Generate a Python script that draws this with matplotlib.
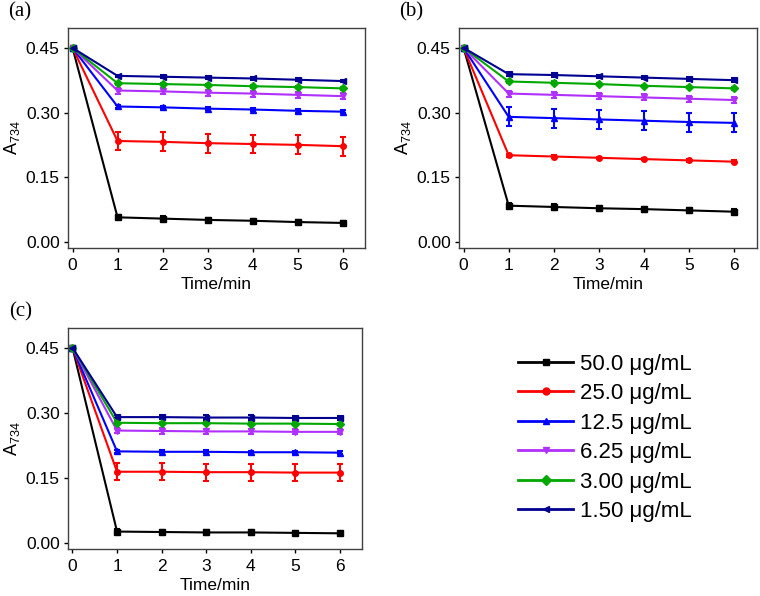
import numpy as np
import matplotlib
matplotlib.use('Agg')
import matplotlib.pyplot as plt
from matplotlib.lines import Line2D

plt.rcParams['font.family'] = ['Liberation Sans', 'DejaVu Sans']

time = [0, 1, 2, 3, 4, 5, 6]
labels = ['50.0 μg/mL', '25.0 μg/mL', '12.5 μg/mL', '6.25 μg/mL', '3.00 μg/mL', '1.50 μg/mL']
colors = ['black', '#ff0000', '#0000ff', '#b030ff', '#00a800', '#000090']
markers = ['s', 'o', '^', 'v', 'D', '<']

# panel (a)
a_vals = [
    [0.45, 0.057, 0.054, 0.051, 0.049, 0.046, 0.044],
    [0.45, 0.234, 0.232, 0.229, 0.227, 0.225, 0.222],
    [0.45, 0.314, 0.312, 0.309, 0.307, 0.304, 0.302],
    [0.45, 0.351, 0.349, 0.346, 0.344, 0.341, 0.338],
    [0.45, 0.368, 0.366, 0.364, 0.361, 0.359, 0.356],
    [0.45, 0.385, 0.383, 0.381, 0.379, 0.376, 0.373],
]
a_err = [0.005, 0.022, 0.004, 0.007, 0.003, 0.003]

# panel (b)
b_vals = [
    [0.45, 0.084, 0.081, 0.078, 0.076, 0.073, 0.070],
    [0.45, 0.201, 0.198, 0.195, 0.192, 0.189, 0.186],
    [0.45, 0.290, 0.287, 0.284, 0.281, 0.278, 0.276],
    [0.45, 0.344, 0.341, 0.338, 0.335, 0.332, 0.329],
    [0.45, 0.372, 0.369, 0.366, 0.362, 0.359, 0.356],
    [0.45, 0.389, 0.387, 0.384, 0.381, 0.378, 0.375],
]
b_err = [0.006, 0.003, 0.022, 0.007, 0.003, 0.004]

# panel (c)
c_vals = [
    [0.45, 0.026, 0.025, 0.024, 0.024, 0.023, 0.022],
    [0.45, 0.164, 0.164, 0.163, 0.163, 0.162, 0.162],
    [0.45, 0.211, 0.210, 0.210, 0.209, 0.209, 0.208],
    [0.45, 0.259, 0.258, 0.257, 0.257, 0.256, 0.256],
    [0.45, 0.277, 0.276, 0.276, 0.275, 0.275, 0.274],
    [0.45, 0.290, 0.290, 0.289, 0.289, 0.288, 0.288],
]
c_err = [0.005, 0.020, 0.003, 0.006, 0.003, 0.005]

fig = plt.figure(figsize=(7.6, 5.96), dpi=100)
ax_a = fig.add_axes([0.0895, 0.584, 0.391, 0.369])
ax_b = fig.add_axes([0.604, 0.584, 0.392, 0.369])
ax_c = fig.add_axes([0.0895, 0.079, 0.387, 0.371])

panels = [(ax_a, a_vals, a_err, '(a)'), (ax_b, b_vals, b_err, '(b)'), (ax_c, c_vals, c_err, '(c)')]

for ax, vals, errs, tag in panels:
    for i in range(6):
        yerr = [0] + [errs[i]] * 6
        ax.errorbar(time, vals[i], yerr=yerr, color=colors[i], marker=markers[i],
                    markersize=4, linewidth=1.5, capsize=2.5, elinewidth=1.5,
                    capthick=1.5)
    ax.set_xlim(-0.1, 6.5)
    ax.set_ylim(-0.014, 0.496)
    ax.set_xticks([0, 1, 2, 3, 4, 5, 6])
    ax.set_yticks([0.0, 0.15, 0.30, 0.45])
    ax.set_yticklabels(['0.00', '0.15', '0.30', '0.45'])
    ax.tick_params(direction='out', length=3, width=1, labelsize=12.5, pad=3,
                   top=False, right=False)
    ax.tick_params(axis='x', pad=4)
    ax.set_xlabel('Time/min', fontsize=12.5, labelpad=3)
    ax.set_ylabel(r'A$_{\mathregular{734}}$', fontsize=13, labelpad=3)
    for s in ax.spines.values():
        s.set_color('#404040')
        s.set_linewidth(1.0)
    ax.text(-0.2, 1.03, tag, transform=ax.transAxes, fontsize=15,
            family=['Liberation Serif', 'DejaVu Serif'], va='bottom', ha='left')

handles = [Line2D([], [], color=colors[i], marker=markers[i], markersize=5, linewidth=2)
           for i in range(6)]
fig.legend(handles, labels, loc='upper left', bbox_to_anchor=(0.655, 0.44),
           frameon=False, fontsize=16, handlelength=2.5, handletextpad=0.3,
           labelspacing=0.38)

fig.savefig('out.png', dpi=100)
